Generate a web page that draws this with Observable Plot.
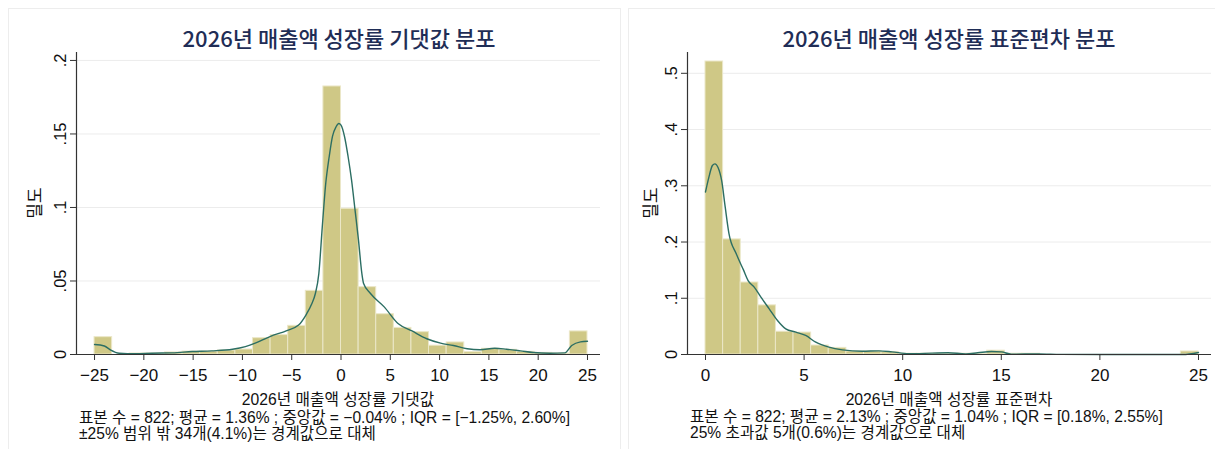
<!DOCTYPE html>
<html>
<head>
<meta charset="utf-8">
<script src="https://cdn.jsdelivr.net/npm/d3@7"></script>
<script src="https://cdn.jsdelivr.net/npm/@observablehq/plot@0.6"></script>
<style>
  body { margin: 0; background: #fff; }
  #page { position: relative; width: 1215px; height: 449px; overflow: hidden; background: #fff;
          font-family: "Liberation Sans", "Noto Sans CJK KR", sans-serif; color: #111; }
  .panel { position: absolute; top: 8px; height: 450px; border: 1px solid #ededed; box-sizing: border-box; }
  .chart { position: absolute; top: 0; }
  .title { position: absolute; transform: translate(-50%, -50%); white-space: nowrap;
           font-family: "Noto Sans CJK KR", sans-serif; font-size: 22px; font-weight: 500; color: #1f2d56; }
  .ylab { position: absolute; transform: translate(-50%, -50%) rotate(-90deg); white-space: nowrap;
          font-family: "Noto Sans CJK KR", sans-serif; font-size: 17px; color: #111; }
  .xlab { position: absolute; transform: translate(-50%, -50%); white-space: nowrap;
          font-family: "Liberation Sans", "Noto Sans CJK KR", sans-serif; font-size: 15.7px; color: #111; }
  .note { position: absolute; white-space: nowrap; font-size: 15.6px; line-height: 16px; color: #111;
          font-family: "Liberation Sans", "Noto Sans CJK KR", sans-serif; }
</style>
</head>
<body>
<div id="page">
  <div class="panel" style="left:8px; width:613px;"></div>
  <div class="panel" style="left:628px; width:600px;"></div>
  <div id="left" class="chart" style="left:0px;"></div>
  <div id="right" class="chart" style="left:620px;"></div>

  <div class="title" style="left:339px; top:37px;">2026년 매출액 성장률 기댓값 분포</div>
  <div class="title" style="left:949px; top:37px;">2026년 매출액 성장률 표준편차 분포</div>

  <div class="ylab" style="left:33px; top:203px;">밀도</div>
  <div class="ylab" style="left:649px; top:203px;">밀도</div>

  <div class="xlab" style="left:338px; top:398px;">2026년 매출액 성장률 기댓값</div>
  <div class="xlab" style="left:949px; top:398px;">2026년 매출액 성장률 표준편차</div>

  <div class="note" style="left:79px; top:410px;">표본 수 = 822; 평균 = 1.36% ; 중앙값 = −0.04% ; IQR = [−1.25%, 2.60%]<br>±25% 범위 밖 34개(4.1%)는 경계값으로 대체</div>
  <div class="note" style="left:690px; top:409px;">표본 수 = 822; 평균 = 2.13% ; 중앙값 = 1.04% ; IQR = [0.18%, 2.55%]<br>25% 초과값 5개(0.6%)는 경계값으로 대체</div>
</div>

<script>
// Expected growth: 28 equal-width bins over [-25, 25], density per bin
const expRange = [-25, 25];
const expDensity = [
  0.0118, 0.0000, 0.0007, 0.0007, 0.0014, 0.0020, 0.0020, 0.0027,
  0.0034, 0.0111, 0.0132, 0.0195, 0.0433, 0.1823, 0.0991, 0.0458,
  0.0274, 0.0181, 0.0152, 0.0060, 0.0082, 0.0016, 0.0039, 0.0032,
  0.0018, 0.0011, 0.0007, 0.0157
];
// Kernel density estimate of the expected growth
const expKdeX = [-25, -24, -23.4, -22.5, -20.8, -19.2, -17.1, -15.1, -13.1, -11.0, -9.7, -8.7,
  -7.2, -5.5, -4.3, -3.5, -3.0, -2.6, -2.25, -1.9, -1.55, -1.2, -0.86, -0.5, -0.23, 0.0, 0.36,
  0.72, 1.07, 1.42, 1.77, 2.11, 2.29, 2.99, 4.38, 5.78, 7.2, 8.7, 10.1, 11.4, 12.8, 14.1,
  15.6, 16.8, 18.2, 19.5, 21.2, 22.7, 23.4, 24.3, 25];
const expKdeY = [0.0068, 0.0058, 0.0032, 0.0009, 0.0005, 0.0009, 0.0011, 0.0020, 0.0025, 0.0036, 0.0054, 0.0077,
  0.0122, 0.0163, 0.0200, 0.0275, 0.0340, 0.0415, 0.0550, 0.0868, 0.1163, 0.1345, 0.1485, 0.1549, 0.1571, 0.1560, 0.1481,
  0.1345, 0.1186, 0.0984, 0.0780, 0.0553, 0.0483, 0.0415, 0.0324, 0.0211, 0.0160, 0.0107, 0.0077, 0.0061, 0.0039, 0.0032,
  0.0043, 0.0036, 0.0025, 0.0014, 0.0009, 0.0011, 0.0061, 0.0086, 0.0090];
const expXTicks = [-25, -20, -15, -10, -5, 0, 5, 10, 15, 20, 25];
const expYTicks = [0, 0.05, 0.1, 0.15, 0.2];

// Standard deviation of growth: 28 equal-width bins over [0, 25]
const sdRange = [0, 25];
const sdDensity = [
  0.5210, 0.2047, 0.1280, 0.0874, 0.0405, 0.0390, 0.0160, 0.0118,
  0.0054, 0.0054, 0.0041, 0.0014, 0.0014, 0.0014, 0.0014, 0.0014,
  0.0068, 0.0014, 0.0014, 0.0000, 0.0000, 0.0000, 0.0000, 0.0000,
  0.0000, 0.0000, 0.0000, 0.0054
];
const sdKdeX = [0, 0.17, 0.35, 0.48, 0.63, 0.82, 1.0, 1.19, 1.56, 1.93, 2.16, 2.47, 2.81, 3.23, 3.65,
  4.07, 4.58, 5.08, 5.59, 6.26, 6.94, 7.95, 8.79, 9.46, 10.3, 11.5, 12.3, 13.2, 13.8, 14.5, 15.0,
  15.5, 16.9, 18.0, 20.0, 24.2, 25];
const sdKdeY = [0.289, 0.315, 0.336, 0.339, 0.333, 0.309, 0.262, 0.215, 0.179, 0.150, 0.1315, 0.1197, 0.1019, 0.0812, 0.0604,
  0.0456, 0.0397, 0.0338, 0.0219, 0.0130, 0.0083, 0.0059, 0.0065, 0.0047, 0.0015, 0.0024, 0.0030, 0.0012, 0.0030, 0.0053, 0.0047,
  0.0005, 0.0012, 0.0003, 0.0000, 0.0000, 0.0036];
const sdXTicks = [0, 5, 10, 15, 20, 25];
const sdYTicks = [0, 0.1, 0.2, 0.3, 0.4, 0.5];

const fmtY = d => d === 0 ? "0" : String(d).replace(/^0/, "");
const fmtX = d => d < 0 ? "\u2212" + (-d) : String(d);

function densityChart({range, density, kdeX, kdeY, xTicks, yTicks, xDomain, yDomain, width, marginLeft, marginRight}) {
  const step = (range[1] - range[0]) / density.length;
  const bins = density.map((d, i) => ({x1: range[0] + i * step, x2: range[0] + (i + 1) * step, y1: 0, y2: d}));
  const kde = kdeX.map((x, i) => ({x, y: kdeY[i]}));
  return Plot.plot({
    width, height: 410,
    marginLeft, marginRight, marginTop: 52, marginBottom: 56,
    x: {domain: xDomain},
    y: {domain: yDomain},
    style: {fontFamily: "Liberation Sans, Noto Sans CJK KR, sans-serif", fontSize: "16px", color: "#111", background: "transparent"},
    marks: [
      Plot.gridY(yTicks, {stroke: "#ececec", strokeOpacity: 1}),
      Plot.rect(bins, {x1: "x1", x2: "x2", y1: "y1", y2: "y2", fill: "#cfc886", stroke: "#ebe7c8", strokeWidth: 1}),
      Plot.line(kde, {x: "x", y: "y", stroke: "#2c6e63", strokeWidth: 1.4, curve: "monotone-x"}),
      Plot.ruleX([xDomain[0]], {stroke: "#333", strokeWidth: 1.2}),
      Plot.ruleY([yDomain[0]], {stroke: "#333", strokeWidth: 1.2}),
      Plot.axisX(xTicks, {tickSize: 6, tickPadding: 8, tickFormat: fmtX, fontSize: 17, label: null, stroke: "#333"}),
      Plot.axisY(yTicks, {tickSize: 6, tickFormat: () => "", label: null, stroke: "#333"}),
      Plot.text(yTicks, {y: d => d, text: fmtY, frameAnchor: "left", dx: -16, rotate: -90,
                         textAnchor: "middle", lineAnchor: "middle", fontSize: 16.5, fill: "#111"})
    ]
  });
}

document.getElementById("left").append(densityChart({
  range: expRange, density: expDensity, kdeX: expKdeX, kdeY: expKdeY,
  xTicks: expXTicks, yTicks: expYTicks,
  xDomain: [-26.83, 26.32], yDomain: [0, 0.2054],
  width: 620, marginLeft: 76, marginRight: 20
}));

document.getElementById("right").append(densityChart({
  range: sdRange, density: sdDensity, kdeX: sdKdeX, kdeY: sdKdeY,
  xTicks: sdXTicks, yTicks: sdYTicks,
  xDomain: [-0.913, 25.66], yDomain: [0, 0.537],
  width: 595, marginLeft: 67, marginRight: 4
}));
</script>
</body>
</html>
